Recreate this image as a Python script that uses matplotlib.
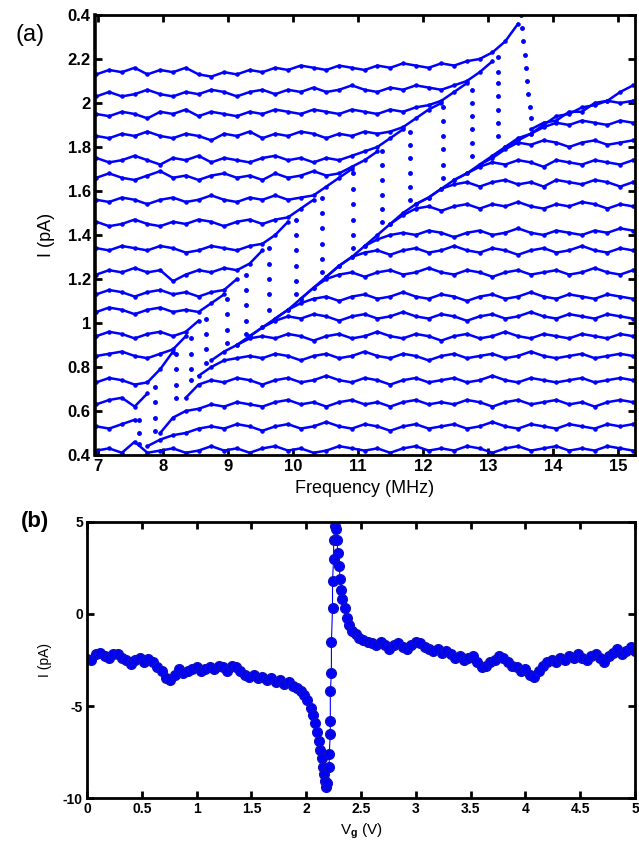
import numpy as np
import matplotlib.pyplot as plt

plt.rcParams['font.family'] = ['Liberation Sans', 'DejaVu Sans']
plt.rcParams['font.weight'] = 'bold'
plt.rcParams['mathtext.fontset'] = 'custom'
plt.rcParams['mathtext.rm'] = 'Liberation Sans:bold'
plt.rcParams['mathtext.bf'] = 'Liberation Sans:bold'

# ---- (a) frequency sweeps, one per gate setting ----
freq = np.linspace(6.97, 15.23, 43)

sweep_00 = [2.13, 2.15, 2.14, 2.16, 2.13, 2.15, 2.14, 2.16, 2.13, 2.12, 2.14, 2.13, 2.15, 2.14, 2.16,
            2.15, 2.17, 2.16, 2.15, 2.17, 2.16, 2.15, 2.17, 2.16, 2.18, 2.17, 2.16, 2.18, 2.17, 2.19,
            2.20, 2.23, 2.28, 2.36, 1.88, 1.91, 1.92, 1.96, 1.96, 2.00, 2.01, 2.05, 2.08]
sweep_01 = [2.03, 2.05, 2.03, 2.04, 2.06, 2.04, 2.03, 2.05, 2.04, 2.06, 2.05, 2.03, 2.05, 2.06, 2.04,
            2.06, 2.05, 2.07, 2.05, 2.06, 2.08, 2.06, 2.05, 2.07, 2.06, 2.08, 2.07, 2.06, 2.08, 2.10,
            2.14, 2.19, 1.80, 1.84, 1.86, 1.90, 1.94, 1.95, 1.98, 1.99, 2.01, 2.00, 2.01]
sweep_02 = [1.95, 1.94, 1.96, 1.95, 1.93, 1.96, 1.95, 1.97, 1.94, 1.96, 1.95, 1.94, 1.96, 1.95, 1.97,
            1.96, 1.95, 1.97, 1.96, 1.95, 1.97, 1.96, 1.95, 1.97, 1.96, 1.98, 1.99, 2.01, 2.05, 2.09,
            1.72, 1.76, 1.80, 1.83, 1.86, 1.89, 1.91, 1.90, 1.92, 1.91, 1.90, 1.92, 1.91]
sweep_03 = [1.85, 1.84, 1.86, 1.85, 1.87, 1.85, 1.84, 1.86, 1.85, 1.83, 1.86, 1.85, 1.87, 1.84, 1.86,
            1.85, 1.87, 1.86, 1.84, 1.86, 1.85, 1.87, 1.86, 1.87, 1.89, 1.93, 1.97, 2.00, 1.65, 1.68,
            1.72, 1.75, 1.79, 1.82, 1.81, 1.83, 1.82, 1.80, 1.82, 1.83, 1.81, 1.82, 1.83]
sweep_04 = [1.75, 1.73, 1.74, 1.76, 1.74, 1.72, 1.75, 1.74, 1.76, 1.73, 1.75, 1.74, 1.73, 1.75, 1.76,
            1.74, 1.75, 1.73, 1.75, 1.74, 1.76, 1.78, 1.80, 1.84, 1.88, 1.54, 1.57, 1.61, 1.65, 1.68,
            1.71, 1.73, 1.72, 1.74, 1.73, 1.71, 1.74, 1.73, 1.72, 1.74, 1.73, 1.72, 1.74]
sweep_05 = [1.66, 1.68, 1.66, 1.65, 1.67, 1.69, 1.66, 1.67, 1.65, 1.67, 1.68, 1.66, 1.67, 1.65, 1.68,
            1.66, 1.67, 1.69, 1.67, 1.68, 1.71, 1.74, 1.78, 1.45, 1.50, 1.54, 1.57, 1.61, 1.63, 1.64,
            1.62, 1.64, 1.65, 1.63, 1.64, 1.62, 1.65, 1.64, 1.63, 1.65, 1.64, 1.62, 1.64]
sweep_06 = [1.56, 1.55, 1.57, 1.56, 1.54, 1.56, 1.57, 1.55, 1.56, 1.58, 1.56, 1.55, 1.57, 1.56, 1.58,
            1.56, 1.57, 1.58, 1.62, 1.66, 1.70, 1.35, 1.40, 1.45, 1.49, 1.52, 1.53, 1.51, 1.53, 1.54,
            1.52, 1.54, 1.53, 1.55, 1.53, 1.52, 1.54, 1.53, 1.55, 1.54, 1.52, 1.54, 1.53]
sweep_07 = [1.46, 1.44, 1.45, 1.47, 1.45, 1.44, 1.46, 1.45, 1.47, 1.46, 1.44, 1.46, 1.47, 1.45, 1.47,
            1.48, 1.52, 1.56, 1.21, 1.26, 1.30, 1.35, 1.38, 1.40, 1.41, 1.40, 1.42, 1.41, 1.39, 1.41,
            1.42, 1.40, 1.41, 1.43, 1.41, 1.40, 1.42, 1.41, 1.40, 1.42, 1.41, 1.43, 1.42]
sweep_08 = [1.34, 1.33, 1.35, 1.34, 1.33, 1.35, 1.34, 1.32, 1.33, 1.35, 1.34, 1.33, 1.35, 1.36, 1.40,
            1.46, 1.11, 1.16, 1.21, 1.26, 1.30, 1.32, 1.33, 1.31, 1.33, 1.34, 1.32, 1.33, 1.35, 1.33,
            1.32, 1.34, 1.33, 1.31, 1.33, 1.34, 1.32, 1.33, 1.35, 1.33, 1.32, 1.34, 1.33]
sweep_09 = [1.22, 1.24, 1.23, 1.25, 1.23, 1.24, 1.19, 1.22, 1.24, 1.23, 1.25, 1.24, 1.27, 1.33, 1.02,
            1.06, 1.11, 1.16, 1.20, 1.22, 1.23, 1.21, 1.23, 1.24, 1.22, 1.23, 1.25, 1.23, 1.22, 1.24,
            1.23, 1.21, 1.23, 1.24, 1.22, 1.23, 1.24, 1.22, 1.23, 1.25, 1.23, 1.22, 1.24]
sweep_10 = [1.13, 1.15, 1.14, 1.12, 1.14, 1.15, 1.13, 1.14, 1.12, 1.14, 1.15, 1.20, 0.94, 0.98, 1.02,
            1.06, 1.09, 1.11, 1.12, 1.10, 1.12, 1.13, 1.11, 1.12, 1.14, 1.12, 1.11, 1.13, 1.12, 1.10,
            1.12, 1.13, 1.11, 1.12, 1.14, 1.12, 1.11, 1.13, 1.12, 1.11, 1.13, 1.12, 1.11]
sweep_11 = [1.05, 1.07, 1.06, 1.04, 1.06, 1.07, 1.05, 1.06, 1.05, 1.09, 1.13, 0.90, 0.94, 0.98, 1.01,
            1.03, 1.02, 1.04, 1.03, 1.01, 1.03, 1.04, 1.02, 1.03, 1.05, 1.03, 1.02, 1.04, 1.03, 1.01,
            1.03, 1.04, 1.02, 1.03, 1.05, 1.03, 1.02, 1.04, 1.03, 1.02, 1.04, 1.03, 1.02]
sweep_12 = [0.94, 0.96, 0.95, 0.93, 0.95, 0.96, 0.94, 0.96, 1.01, 0.83, 0.87, 0.90, 0.93, 0.94, 0.93,
            0.95, 0.94, 0.92, 0.94, 0.95, 0.93, 0.94, 0.96, 0.94, 0.93, 0.95, 0.94, 0.92, 0.94, 0.95,
            0.93, 0.94, 0.96, 0.94, 0.93, 0.95, 0.94, 0.93, 0.95, 0.94, 0.93, 0.95, 0.94]
sweep_13 = [0.85, 0.86, 0.87, 0.85, 0.84, 0.86, 0.88, 0.94, 0.76, 0.80, 0.83, 0.84, 0.85, 0.84, 0.86,
            0.85, 0.83, 0.85, 0.86, 0.84, 0.85, 0.87, 0.85, 0.84, 0.86, 0.85, 0.83, 0.85, 0.86, 0.84,
            0.85, 0.86, 0.84, 0.85, 0.87, 0.85, 0.84, 0.85, 0.86, 0.84, 0.85, 0.86, 0.85]
sweep_14 = [0.73, 0.75, 0.74, 0.72, 0.73, 0.79, 0.87, 0.66, 0.72, 0.74, 0.73, 0.75, 0.74, 0.72, 0.74,
            0.75, 0.73, 0.74, 0.76, 0.74, 0.73, 0.75, 0.74, 0.72, 0.74, 0.75, 0.73, 0.74, 0.75, 0.73,
            0.74, 0.76, 0.74, 0.73, 0.75, 0.74, 0.73, 0.74, 0.75, 0.73, 0.74, 0.75, 0.74]
sweep_15 = [0.63, 0.65, 0.66, 0.62, 0.68, 0.50, 0.57, 0.60, 0.61, 0.63, 0.62, 0.64, 0.63, 0.62, 0.64,
            0.65, 0.63, 0.64, 0.62, 0.64, 0.65, 0.63, 0.64, 0.62, 0.64, 0.65, 0.63, 0.64, 0.63, 0.65,
            0.64, 0.62, 0.64, 0.65, 0.63, 0.64, 0.65, 0.63, 0.64, 0.62, 0.64, 0.65, 0.64]
sweep_16 = [0.53, 0.52, 0.54, 0.56, 0.44, 0.47, 0.49, 0.50, 0.52, 0.53, 0.52, 0.54, 0.53, 0.51, 0.53,
            0.54, 0.52, 0.53, 0.55, 0.53, 0.52, 0.54, 0.53, 0.51, 0.53, 0.54, 0.52, 0.53, 0.54, 0.52,
            0.53, 0.55, 0.53, 0.52, 0.54, 0.53, 0.52, 0.54, 0.53, 0.52, 0.54, 0.53, 0.54]
sweep_17 = [0.42, 0.43, 0.41, 0.46, 0.41, 0.42, 0.43, 0.41, 0.42, 0.44, 0.42, 0.43, 0.41, 0.43, 0.44,
            0.42, 0.43, 0.41, 0.42, 0.44, 0.43, 0.42, 0.43, 0.41, 0.43, 0.44, 0.42, 0.43, 0.42, 0.44,
            0.43, 0.41, 0.43, 0.44, 0.42, 0.43, 0.44, 0.42, 0.43, 0.42, 0.44, 0.43, 0.42]

sweeps = [sweep_00, sweep_01, sweep_02, sweep_03, sweep_04, sweep_05, sweep_06, sweep_07, sweep_08,
          sweep_09, sweep_10, sweep_11, sweep_12, sweep_13, sweep_14, sweep_15, sweep_16, sweep_17]

# frequency where each sweep falls off the upper branch
jump_freq = [13.55, 13.15, 12.75, 12.30, 11.80, 11.37, 10.92, 10.44, 10.04,
             9.63, 9.28, 8.98, 8.66, 8.42, 8.20, 7.88, 7.62, None]

# the few points recorded during each fall
fall_current = [
    [2.40, 2.34, 2.28, 2.22, 2.16, 2.10, 2.04, 1.98, 1.93],
    [2.21, 2.14, 2.09, 2.03, 1.97, 1.91, 1.85],
    [2.06, 2.00, 1.94, 1.88, 1.82, 1.76],
    [1.98, 1.92, 1.85, 1.79, 1.72, 1.66],
    [1.87, 1.81, 1.75, 1.68, 1.62, 1.56],
    [1.78, 1.72, 1.65, 1.58, 1.52, 1.46],
    [1.68, 1.61, 1.54, 1.47, 1.40, 1.34],
    [1.57, 1.50, 1.43, 1.36, 1.29, 1.23],
    [1.47, 1.40, 1.33, 1.26, 1.19, 1.13],
    [1.34, 1.27, 1.20, 1.13, 1.06],
    [1.22, 1.15, 1.08, 1.01, 0.95],
    [1.11, 1.04, 0.97, 0.91],
    [1.02, 0.95, 0.88, 0.82],
    [0.93, 0.86, 0.79, 0.74],
    [0.86, 0.79, 0.72, 0.66],
    [0.71, 0.64, 0.57, 0.51],
    [0.56, 0.50, 0.45],
]
# the top sweep falls along a slanted path
top_fall_freq = [13.50, 13.52, 13.54, 13.56, 13.58, 13.60, 13.62, 13.64, 13.66]

# ---- (b) gate sweep ----
vg = [0.00, 0.04, 0.08, 0.12, 0.16, 0.20, 0.24, 0.28, 0.32, 0.36, 0.40, 0.44, 0.48, 0.52, 0.56,
      0.60, 0.64, 0.68, 0.72, 0.76, 0.80, 0.84, 0.88, 0.92, 0.96, 1.00, 1.04, 1.08, 1.12, 1.16,
      1.20, 1.24, 1.28, 1.32, 1.36, 1.40, 1.44, 1.48, 1.52, 1.56, 1.60, 1.64, 1.68, 1.72, 1.76,
      1.80, 1.84, 1.88, 1.92, 1.95, 1.98, 2.01, 2.04, 2.06, 2.08, 2.10, 2.12, 2.13, 2.14, 2.15,
      2.16, 2.17, 2.18, 2.19, 2.21, 2.21, 2.22, 2.22, 2.22, 2.23, 2.23, 2.24, 2.24, 2.25, 2.25,
      2.26, 2.27, 2.28, 2.29, 2.30, 2.31, 2.32, 2.33, 2.35, 2.37, 2.39, 2.42, 2.45, 2.48, 2.52,
      2.56, 2.60, 2.64, 2.68, 2.72, 2.76, 2.80, 2.84, 2.88, 2.92, 2.96, 3.00, 3.04, 3.08, 3.12,
      3.16, 3.20, 3.24, 3.28, 3.32, 3.36, 3.40, 3.44, 3.48, 3.52, 3.56, 3.60, 3.64, 3.68, 3.72,
      3.76, 3.80, 3.84, 3.88, 3.92, 3.96, 4.00, 4.04, 4.08, 4.12, 4.16, 4.20, 4.24, 4.28, 4.32,
      4.36, 4.40, 4.44, 4.48, 4.52, 4.56, 4.60, 4.64, 4.68, 4.72, 4.76, 4.80, 4.84, 4.88, 4.92,
      4.96, 5.00]
current = [-2.45, -2.5, -2.2, -2.1, -2.3, -2.4, -2.2, -2.15, -2.4, -2.5, -2.7, -2.5, -2.4, -2.6, -2.45,
           -2.6, -2.9, -3.1, -3.5, -3.6, -3.3, -3.0, -3.2, -3.1, -3.0, -2.9, -3.1, -3.0, -2.9, -3.0,
           -2.8, -2.9, -3.1, -2.8, -2.9, -3.1, -3.3, -3.4, -3.3, -3.5, -3.4, -3.6, -3.5, -3.7, -3.6,
           -3.8, -3.7, -3.9, -4.0, -4.2, -4.4, -4.7, -5.1, -5.5, -5.9, -6.4, -6.9, -7.4, -7.8, -8.3,
           -8.7, -9.1, -9.4, -9.2, -8.3, -7.6, -6.5, -5.8, -4.2, -3.2, -1.5, 0.3, 1.8, 3.0, 4.0,
           4.8, 4.6, 4.0, 3.3, 2.6, 1.9, 1.3, 0.8, 0.3, -0.2, -0.6, -0.9, -1.1, -1.3, -1.4,
           -1.5, -1.6, -1.7, -1.5, -1.7, -1.9, -1.7, -1.6, -1.8, -1.9, -1.7, -1.5, -1.6, -1.8, -1.9,
           -2.0, -1.9, -2.1, -2.0, -2.2, -2.4, -2.3, -2.5, -2.4, -2.3, -2.6, -2.9, -2.8, -2.6, -2.5,
           -2.3, -2.4, -2.6, -2.8, -2.9, -3.1, -3.0, -3.3, -3.4, -3.1, -2.8, -2.6, -2.5, -2.6, -2.4,
           -2.5, -2.3, -2.4, -2.2, -2.4, -2.5, -2.3, -2.2, -2.4, -2.6, -2.3, -2.1, -1.9, -2.2, -2.0,
           -1.8, -2.0]

fig = plt.figure(figsize=(6.39, 8.46), dpi=100)

# ---------------- panel (a) ----------------
ax1 = fig.add_axes([0.1487, 0.4622, 0.8450, 0.5201])
style = dict(color='b', marker='.', ms=4.5, lw=1.8)
for vals, fj in zip(sweeps, jump_freq):
    vals = np.array(vals)
    if fj is None:
        ax1.plot(freq, vals, **style)
        continue
    up = freq < fj
    ax1.plot(freq[up], vals[up], **style)
    ax1.plot(freq[~up], vals[~up], **style)

ax1.plot(top_fall_freq, fall_current[0], '.', color='b', ms=5)
for fj, ys in zip(jump_freq[1:], fall_current[1:]):
    ax1.plot([fj] * len(ys), ys, '.', color='b', ms=5)

ax1.set_xlim(6.95, 15.26)
ax1.set_ylim(0.4, 2.4)
ax1.set_xticks(range(7, 16))
ax1.set_yticks([0.4, 0.6, 0.8, 1.0, 1.2, 1.4, 1.6, 1.8, 2.0, 2.2, 2.4])
ax1.set_yticklabels(['0.4', '0.6', '0.8', '1', '1.2', '1.4', '1.6', '1.8', '2', '2.2', '0.4'])
ax1.tick_params(direction='in', top=True, right=True, length=5, width=2, labelsize=12, pad=3)
for sp in ax1.spines.values():
    sp.set_linewidth(2)
ax1.spines['left'].set_linewidth(2.6)
ax1.set_xlabel('Frequency (MHz)', fontsize=13)
ax1.xaxis.set_label_coords(0.5, -0.058)
ax1.set_ylabel('I (pA)', fontsize=13)
ax1.yaxis.set_label_coords(-0.074, 0.5)
fig.text(0.047, 0.9586, '(a)', fontsize=17, fontweight='normal', ha='center', va='center')

# ---------------- panel (b) ----------------
narrow = ['Liberation Sans Narrow', 'Liberation Sans', 'DejaVu Sans']
ax2 = fig.add_axes([0.1362, 0.0567, 0.8575, 0.3263])
ax2.plot(vg, current, '-', color='b', lw=0.8)
ax2.plot(vg, current, 'o', color='b', mec='#1010c0', ms=7)
ax2.set_xlim(0, 5)
ax2.set_ylim(-10, 5)
ax2.set_xticks([0, 0.5, 1, 1.5, 2, 2.5, 3, 3.5, 4, 4.5, 5])
ax2.set_xticklabels(['0', '0.5', '1', '1.5', '2', '2.5', '3', '3.5', '4', '4.5', '5'])
ax2.set_yticks([-10, -5, 0, 5])
ax2.set_yticklabels(['-10', '-5', '0', '5'])
ax2.tick_params(direction='in', top=True, right=True, length=5, width=2, labelsize=10, pad=3)
for lab in ax2.get_xticklabels() + ax2.get_yticklabels():
    lab.set_family(narrow)
for sp in ax2.spines.values():
    sp.set_linewidth(2)
ax2.set_xlabel(r'V$_\mathbf{g}$ (V)', fontsize=11)
ax2.xaxis.set_label_coords(0.5, -0.085)
ax2.set_ylabel('I (pA)', fontsize=10)
ax2.yaxis.set_label_coords(-0.064, 0.5)
fig.text(0.055, 0.384, '(b)', fontsize=16, ha='center', va='center')

fig.savefig('out.png', dpi=100)
